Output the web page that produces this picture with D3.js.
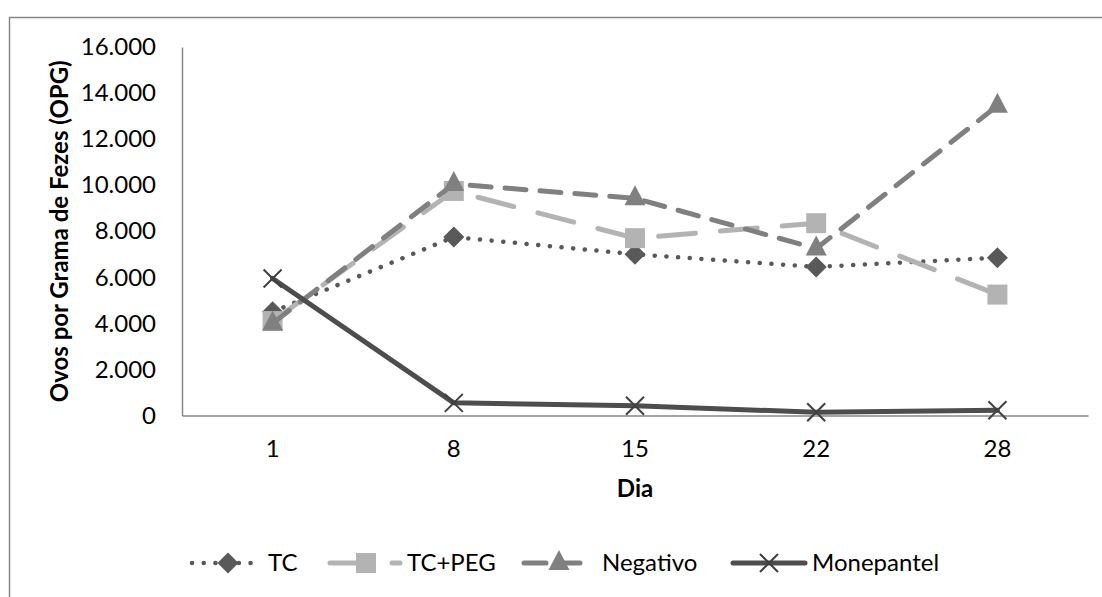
<!DOCTYPE html>
<html><head><meta charset="utf-8">
<script src="https://cdn.jsdelivr.net/npm/d3@7/dist/d3.min.js"></script>
<style>body{margin:0;background:#fff}svg{display:block}</style>
</head><body>
<svg id="c" width="1102" height="597"></svg>
<script>
const days = ["1","8","15","22","28"];
const seriesNames = ["TC","TC+PEG","Negativo","Monepantel"];
const tcValues = [4500, 7750, 7000, 6450, 6850];
const tcPegValues = [4100, 9750, 7700, 8350, 5250];
const negativoValues = [4000, 10050, 9430, 7250, 13450];
const monepantelValues = [5950, 550, 420, 140, 230];
const yTicks = [0,2000,4000,6000,8000,10000,12000,14000,16000];

const series = [
  {name: seriesNames[0], values: tcValues, color:"#595959", width:4.5, dash:"0.1 11.6", legDash:"0.1 11.6", marker:"diamond", mcolor:"#595959"},
  {name: seriesNames[1], values: tcPegValues, color:"#b3b3b3", width:5, dash:"37 25", legDash:"37 25", marker:"square", mcolor:"#b3b3b3"},
  {name: seriesNames[2], values: negativoValues, color:"#808080", width:5, dash:"21 14", legDash:"22 12", marker:"triangle", mcolor:"#808080"},
  {name: seriesNames[3], values: monepantelValues, color:"#4d4d4d", width:5, dash:null, legDash:null, marker:"x", mcolor:"#404040"}
];

const svg = d3.select("#c");
const font = "Lato, 'Open Sans', sans-serif";
const FS = 24;
const L = 182, R = 1088, T = 47, B = 415.5;

// outer frame
svg.append("path").attr("d","M9.5,600 L9.5,17.5 L1110,17.5").attr("fill","none").attr("stroke","#868686").attr("stroke-width",1.5);

const x = d3.scaleBand().domain(days).range([L,R]);
const y = d3.scaleLinear().domain([0,16000]).range([B,T]);

const fmt = d => d3.format(",")(d).replace(/,/g,".");

// axes
const yAxis = svg.append("g").attr("transform",`translate(${L},0)`)
  .call(d3.axisLeft(y).tickValues(yTicks).tickSize(0).tickPadding(26).tickFormat(fmt));
yAxis.select(".domain").attr("stroke","#868686").attr("stroke-width",1.5);
yAxis.selectAll("text").attr("font-family",font).attr("font-size",FS).attr("fill","#000");

const xAxis = svg.append("g").attr("transform",`translate(0,${B})`)
  .call(d3.axisBottom(x).tickSize(0).tickPadding(24));
xAxis.select(".domain").attr("stroke","#868686").attr("stroke-width",1.5);
xAxis.selectAll("text").attr("font-family",font).attr("font-size",FS).attr("fill","#000");

svg.append("text").attr("x",(L+R)/2).attr("y",497).attr("text-anchor","middle")
  .attr("font-family",font).attr("font-weight","bold").attr("font-size",FS).text("Dia");
svg.append("text").attr("transform",`translate(68,${(T+B)/2}) rotate(-90)`).attr("text-anchor","middle")
  .attr("font-family",font).attr("font-weight","bold").attr("font-size",FS).text("Ovos por Grama de Fezes (OPG)");

function drawMarker(g, type, cx, cy, color){
  if(type==="diamond"){
    g.append("path").attr("d",`M${cx},${cy-10.5}L${cx+10.5},${cy}L${cx},${cy+10.5}L${cx-10.5},${cy}Z`).attr("fill",color);
  } else if(type==="square"){
    g.append("rect").attr("x",cx-10).attr("y",cy-10).attr("width",20).attr("height",20).attr("fill",color);
  } else if(type==="triangle"){
    g.append("path").attr("d",`M${cx},${cy-13}L${cx+10.5},${cy+7}L${cx-10.5},${cy+7}Z`).attr("fill",color);
  } else {
    g.append("path").attr("d",`M${cx-9},${cy-9}L${cx+9},${cy+9}M${cx+9},${cy-9}L${cx-9},${cy+9}`).attr("stroke",color).attr("stroke-width",2);
  }
}

const line = d3.line().x((d,i)=>x(days[i])+x.bandwidth()/2).y(d=>y(d));
series.forEach(s=>{
  const g = svg.append("g");
  g.append("path").attr("d",line(s.values)).attr("fill","none").attr("stroke",s.color)
    .attr("stroke-width",s.width).attr("stroke-linecap","round").attr("stroke-linejoin","round")
    .attr("stroke-dasharray",s.dash);
  s.values.forEach((v,i)=>drawMarker(g,s.marker,x(days[i])+x.bandwidth()/2,y(v),s.mcolor));
});

// legend
const legX = [192, 330, 524, 733];
const legLen = [62, 70, 66, 72];
const legY = 563;
series.forEach((s,i)=>{
  const g = svg.append("g");
  const x0 = legX[i], x1 = x0 + legLen[i];
  g.append("line").attr("x1",x0).attr("x2",x1).attr("y1",legY).attr("y2",legY)
    .attr("stroke",s.color).attr("stroke-width",s.width).attr("stroke-linecap","round")
    .attr("stroke-dasharray",s.legDash);
  const mx = [228, 366, 559, 769][i];
  drawMarker(g,s.marker,mx,legY,s.mcolor);
  g.append("text").attr("x",[268,407,602,812][i]).attr("y",legY).attr("dy","0.35em")
    .attr("font-family",font).attr("font-size",FS).attr("fill","#000").text(s.name);
});
</script>
</body></html>
